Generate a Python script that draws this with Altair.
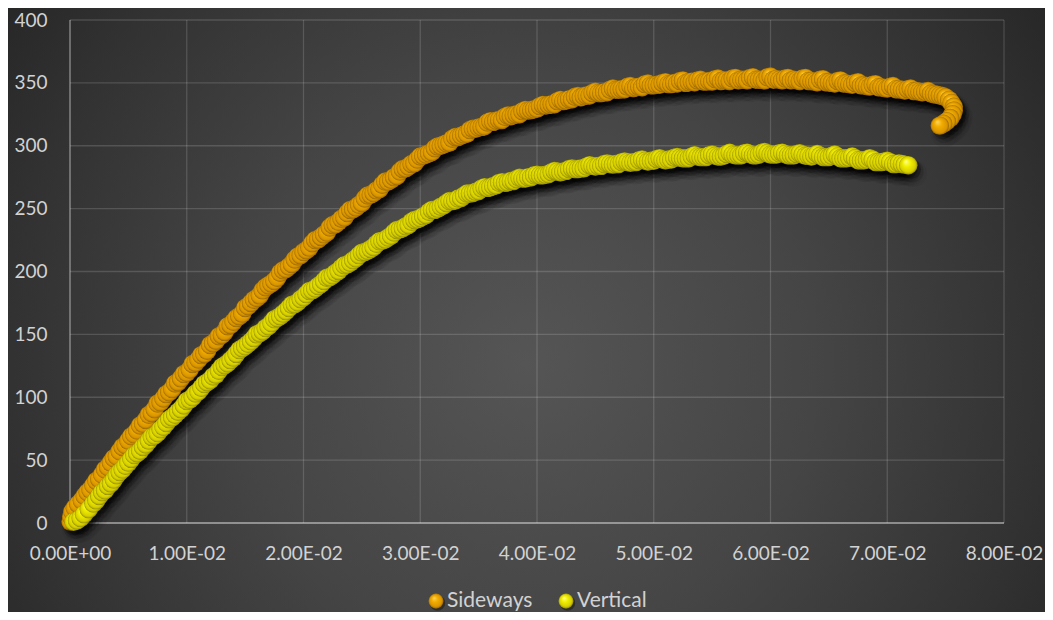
import altair as alt
import pandas as pd

series_names = ["Sideways", "Vertical"]

# strain values in units of 1e-3 (main reading pass)
side_x = [0.05, 0.1, 0.2, 0.4, 0.7,
          1.0, 1.5, 2.0, 2.5, 3.0, 3.5, 4.0, 4.5, 5.0, 5.5, 6.0, 6.5, 7.0, 7.5, 8.0, 8.5, 9.0, 9.5,
          10.0, 10.5, 11.0, 11.5, 12.0, 12.5, 13.0, 13.5, 14.0, 14.5, 15.0, 15.5, 16.0, 16.5, 17.0, 17.5,
          18.0, 18.5, 19.0, 19.5, 20.0, 20.5, 21.0, 21.5, 22.0, 22.5, 23.0, 23.5, 24.0, 24.5, 25.0, 25.5,
          26.0, 26.5, 27.0, 27.5, 28.0, 28.5, 29.0, 29.5, 30.0, 30.5, 31.0, 31.5, 32.0, 32.5, 33.0, 33.5,
          34.0, 34.5, 35.0, 35.5, 36.0, 36.5, 37.0, 37.5, 38.0, 38.5, 39.0, 39.5, 40.0, 40.5, 41.0, 41.5,
          42.0, 42.5, 43.0, 43.5, 44.0, 44.5, 45.0, 45.5, 46.0, 46.5, 47.0, 47.5, 48.0, 48.5, 49.0, 49.5,
          50.0, 50.5, 51.0, 51.5, 52.0, 52.5, 53.0, 53.5, 54.0, 54.5, 55.0, 55.5, 56.0, 56.5, 57.0, 57.5,
          58.0, 58.5, 59.0, 59.5, 60.0, 60.5, 61.0, 61.5, 62.0, 62.5, 63.0, 63.5, 64.0, 64.5, 65.0, 65.5,
          66.0, 66.5, 67.0, 67.5, 68.0, 68.5, 69.0, 69.5, 70.0, 70.5, 71.0, 71.5, 72.0, 72.5, 73.0, 73.5,
          74.0, 74.5, 75.0, 75.3, 75.5, 75.7, 75.7, 75.6, 75.4, 75.1, 74.8, 74.5]
side_y = [1, 5, 9, 12, 15,
          18, 24.5, 30, 35, 42.5, 48, 53, 60.5, 65.5, 70.5, 77.5, 82, 87.5, 95, 99, 104, 111, 115,
          119.5, 126.5, 130, 134.5, 141.5, 145, 149.5, 156.5, 160, 164.5, 171, 175, 179, 185, 189, 192.5,
          199, 202, 206, 212, 215.5, 219, 225, 227.5, 231, 237, 239.5, 243, 249, 251, 254.5, 260.5,
          262.5, 265.5, 271.5, 273, 276, 281.5, 283.5, 286, 291.5, 293, 295, 299.5, 301, 302.5, 307, 308,
          309.5, 313.5, 314.5, 315.5, 319.5, 320, 320.5, 324, 324.5, 325, 328.5, 328.5, 329.5, 332.5, 332.5, 333,
          336.5, 336, 337, 339.5, 339.5, 340, 343, 342, 342.5, 345.5, 344.5, 345, 347.5, 346.5, 346.5, 349.5,
          348, 348.5, 350.5, 349, 349.5, 352, 350.5, 350.5, 352.5, 351, 351, 353.5, 352, 351.5, 354, 352.5,
          352, 354.5, 352.5, 352, 355, 353, 352, 354, 352.5, 351.5, 354, 351.5, 350.5, 353, 350.5, 349.5,
          352, 349.5, 348.5, 350.5, 348, 347, 349, 346.5, 345.5, 347.5, 345, 344, 345.5, 343.5, 342.5, 343.5,
          341, 340, 338.5, 336.5, 334, 331, 328, 325, 322, 319.5, 317.5, 316]

# in-between readings of the same dense Sideways trace
side_x2 = [1.25, 1.75, 2.25, 2.75, 3.25, 3.75, 4.25, 4.75, 5.25, 5.75, 6.25, 6.75, 7.25, 7.75, 8.25, 8.75, 9.25, 9.75,
           10.25, 10.75, 11.25, 11.75, 12.25, 12.75, 13.25, 13.75, 14.25, 14.75, 15.25, 15.75, 16.25, 16.75, 17.25, 17.75,
           18.25, 18.75, 19.25, 19.75, 20.25, 20.75, 21.25, 21.75, 22.25, 22.75, 23.25, 23.75, 24.25, 24.75, 25.25, 25.75,
           26.25, 26.75, 27.25, 27.75, 28.25, 28.75, 29.25, 29.75, 30.25, 30.75, 31.25, 31.75, 32.25, 32.75, 33.25, 33.75,
           34.25, 34.75, 35.25, 35.75, 36.25, 36.75, 37.25, 37.75, 38.25, 38.75, 39.25, 39.75, 40.25, 40.75, 41.25, 41.75,
           42.25, 42.75, 43.25, 43.75, 44.25, 44.75, 45.25, 45.75, 46.25, 46.75, 47.25, 47.75, 48.25, 48.75, 49.25, 49.75,
           50.25, 50.75, 51.25, 51.75, 52.25, 52.75, 53.25, 53.75, 54.25, 54.75, 55.25, 55.75, 56.25, 56.75, 57.25, 57.75,
           58.25, 58.75, 59.25, 59.75, 60.25, 60.75, 61.25, 61.75, 62.25, 62.75, 63.25, 63.75, 64.25, 64.75, 65.25, 65.75,
           66.25, 66.75, 67.25, 67.75, 68.25, 68.75, 69.25, 69.75, 70.25, 70.75, 71.25, 71.75, 72.25, 72.75, 73.25, 73.75,
           74.25, 74.75]
side_y2 = [21.5, 26.5, 33.5, 38.5, 44.5, 51.5, 57, 62, 69, 73.5, 79, 86, 90.5, 96, 102.5, 106.5, 112, 118.5,
           122, 127.5, 133.5, 137, 143, 148.5, 152, 157.5, 163, 166.5, 172.5, 177.5, 181, 187.5, 190.5, 195,
           201, 204, 209.5, 213, 217, 222.5, 225.5, 229.5, 235, 237.5, 242, 246.5, 249.5, 253, 258, 261,
           264.5, 269, 271.5, 275, 279.5, 282, 285.5, 289, 292, 294, 298, 300, 302, 305.5, 307, 309,
           312.5, 313.5, 315, 318.5, 319, 320.5, 323, 323.5, 325, 327.5, 328, 329, 331.5, 332, 333, 335.5,
           335.5, 337, 339, 338.5, 340, 342, 342, 342.5, 344.5, 344.5, 345, 347, 346, 347, 349, 348,
           348.5, 350, 349, 350, 351.5, 350, 351, 352, 351, 351.5, 353, 351.5, 352, 353.5, 352, 352.5,
           354, 352.5, 352.5, 354.5, 352.5, 352.5, 353.5, 352, 352, 353.5, 351.5, 351, 352.5, 350.5, 350, 351.5,
           349.5, 349, 350, 348, 347.5, 348.5, 346.5, 346, 347, 345, 344.5, 345, 343.5, 343, 343, 341.5,
           340.5, 339.5]

vert_x = [0.3, 0.6, 0.9, 1.2, 1.6,
          2.0, 2.5, 3.0, 3.5, 4.0, 4.5, 5.0, 5.5, 6.0, 6.5, 7.0, 7.5, 8.0, 8.5, 9.0, 9.5,
          10.0, 10.5, 11.0, 11.5, 12.0, 12.5, 13.0, 13.5, 14.0, 14.5, 15.0, 15.5, 16.0, 16.5, 17.0, 17.5,
          18.0, 18.5, 19.0, 19.5, 20.0, 20.5, 21.0, 21.5, 22.0, 22.5, 23.0, 23.5, 24.0, 24.5, 25.0, 25.5,
          26.0, 26.5, 27.0, 27.5, 28.0, 28.5, 29.0, 29.5, 30.0, 30.5, 31.0, 31.5, 32.0, 32.5, 33.0, 33.5,
          34.0, 34.5, 35.0, 35.5, 36.0, 36.5, 37.0, 37.5, 38.0, 38.5, 39.0, 39.5, 40.0, 40.5, 41.0, 41.5,
          42.0, 42.5, 43.0, 43.5, 44.0, 44.5, 45.0, 45.5, 46.0, 46.5, 47.0, 47.5, 48.0, 48.5, 49.0, 49.5,
          50.0, 50.5, 51.0, 51.5, 52.0, 52.5, 53.0, 53.5, 54.0, 54.5, 55.0, 55.5, 56.0, 56.5, 57.0, 57.5,
          58.0, 58.5, 59.0, 59.5, 60.0, 60.5, 61.0, 61.5, 62.0, 62.5, 63.0, 63.5, 64.0, 64.5, 65.0, 65.5,
          66.0, 66.5, 67.0, 67.5, 68.0, 68.5, 69.0, 69.5, 70.0, 70.5, 71.0, 71.5, 71.8]
vert_y = [1, 2, 4, 7, 11,
          15.5, 21.5, 26, 31.5, 38, 42.5, 48, 54, 57.5, 62.5, 68.5, 71.5, 76.5, 82.5, 86, 90.5,
          97, 100, 104.5, 110.5, 113.5, 118, 124, 127, 131.5, 137.5, 140.5, 144.5, 150, 152.5, 156.5, 162,
          164.5, 168.5, 173.5, 175.5, 179.5, 184.5, 186.5, 190, 195, 197, 200.5, 205, 207, 210.5, 215, 216.5,
          219.5, 224, 225.5, 228.5, 233, 234.5, 237, 241, 242.5, 245, 249, 250, 252.5, 256, 256.5, 258.5,
          262, 262.5, 264, 267, 267, 268.5, 271, 271, 272, 274.5, 274, 275, 277, 276.5, 277.5, 280,
          279, 280, 282, 281.5, 282, 284.5, 283.5, 284, 286, 285, 285.5, 287.5, 286.5, 287, 289, 287.5,
          288, 290, 288.5, 289, 291, 290, 290, 292.5, 291, 291, 293, 291.5, 292, 294.5, 292.5, 292.5,
          294.5, 292.5, 293, 295, 293, 293, 294.5, 292.5, 292.5, 294, 292, 291.5, 293.5, 291, 291, 293,
          290, 290, 291.5, 288.5, 288.5, 290, 287, 287, 288, 285.5, 286, 285, 284.5]

# in-between readings of the same dense Vertical trace
vert_x2 = [2.25, 2.75, 3.25, 3.75, 4.25, 4.75, 5.25, 5.75, 6.25, 6.75, 7.25, 7.75, 8.25, 8.75, 9.25, 9.75,
           10.25, 10.75, 11.25, 11.75, 12.25, 12.75, 13.25, 13.75, 14.25, 14.75, 15.25, 15.75, 16.25, 16.75, 17.25, 17.75,
           18.25, 18.75, 19.25, 19.75, 20.25, 20.75, 21.25, 21.75, 22.25, 22.75, 23.25, 23.75, 24.25, 24.75, 25.25, 25.75,
           26.25, 26.75, 27.25, 27.75, 28.25, 28.75, 29.25, 29.75, 30.25, 30.75, 31.25, 31.75, 32.25, 32.75, 33.25, 33.75,
           34.25, 34.75, 35.25, 35.75, 36.25, 36.75, 37.25, 37.75, 38.25, 38.75, 39.25, 39.75, 40.25, 40.75, 41.25, 41.75,
           42.25, 42.75, 43.25, 43.75, 44.25, 44.75, 45.25, 45.75, 46.25, 46.75, 47.25, 47.75, 48.25, 48.75, 49.25, 49.75,
           50.25, 50.75, 51.25, 51.75, 52.25, 52.75, 53.25, 53.75, 54.25, 54.75, 55.25, 55.75, 56.25, 56.75, 57.25, 57.75,
           58.25, 58.75, 59.25, 59.75, 60.25, 60.75, 61.25, 61.75, 62.25, 62.75, 63.25, 63.75, 64.25, 64.75, 65.25, 65.75,
           66.25, 66.75, 67.25, 67.75, 68.25, 68.75, 69.25, 69.75, 70.25, 70.75, 71.25]
vert_y2 = [18, 24.5, 29.5, 34.5, 40.5, 45.5, 51, 55.5, 60.5, 65.5, 69.5, 74.5, 79.5, 84, 88.5, 93.5,
           98, 103, 107.5, 112, 116.5, 121, 125.5, 129.5, 134.5, 139, 142.5, 147, 151, 155, 159, 163,
           166.5, 171, 174, 178, 182, 185, 188.5, 192.5, 195.5, 199, 203, 205.5, 209, 213, 215.5, 218,
           222, 224.5, 227, 231, 233.5, 236, 239.5, 241.5, 244, 247.5, 249, 251.5, 254.5, 256, 258, 260.5,
           262, 263.5, 266, 266.5, 268, 270.5, 270.5, 272, 273.5, 274, 275, 276.5, 276.5, 277, 279, 279.5,
           279.5, 281.5, 281.5, 282, 283.5, 284, 284, 285.5, 285.5, 285.5, 287, 287, 287, 288.5, 288, 288,
           289.5, 289, 289, 290.5, 290.5, 290, 291.5, 291.5, 291, 292.5, 292, 291.5, 293.5, 293, 292.5, 294,
           293.5, 292.5, 294.5, 294, 293, 294, 293.5, 292.5, 293.5, 293, 292, 292.5, 292, 291, 292, 291.5,
           290, 290.5, 290, 288.5, 289, 289, 287, 287.5, 287, 285.5, 285.5]

x_ticks = [0.0, 0.01, 0.02, 0.03, 0.04, 0.05, 0.06, 0.07, 0.08]
y_ticks = [0, 50, 100, 150, 200, 250, 300, 350, 400]

assert len(side_x) == len(side_y) and len(side_x2) == len(side_y2)
assert len(vert_x) == len(vert_y) and len(vert_x2) == len(vert_y2)

# drawing order follows the trace: merge readings by strain, keep the unloading hook last
hook = side_x.index(75.0) + 1
side_body = sorted(list(zip(side_x[:hook], side_y[:hook])) + list(zip(side_x2, side_y2)),
                   key=lambda p: p[0])
side_pts_list = side_body + list(zip(side_x[hook:], side_y[hook:]))
vert_pts_list = sorted(list(zip(vert_x, vert_y)) + list(zip(vert_x2, vert_y2)), key=lambda p: p[0])

df_side = pd.DataFrame({"x": [p[0] / 1000 for p in side_pts_list], "y": [p[1] for p in side_pts_list]})
df_vert = pd.DataFrame({"x": [p[0] / 1000 for p in vert_pts_list], "y": [p[1] for p in vert_pts_list]})

FONT = "Lato"
LABEL = "#D2D2D2"
W, H = 934, 503
TOP = 12          # distance from the chart's top edge to the plot area
DOT = 340

xs = alt.Scale(domain=[0, 0.08], nice=False, zero=False)
ys = alt.Scale(domain=[0, 400], nice=False, zero=False)

x_axis = alt.Axis(values=x_ticks, grid=False, domain=False, ticks=False, tickSize=0,
                  labelPadding=21, labelFont=FONT, labelFontSize=19, labelColor=LABEL,
                  labelOverlap=False, labelFlush=False, title=None, zindex=2,
                  labelExpr="replace(replace(format(datum.value, '.2e'), 'e-', 'E-0'), 'e+', 'E+0')")
y_axis = alt.Axis(values=y_ticks, grid=False, domain=False, ticks=False, tickSize=0,
                  labelPadding=23, labelFont=FONT, labelFontSize=19, labelColor=LABEL,
                  labelOverlap=False, title=None, zindex=2)


def X(field):
    return alt.X(field, scale=xs, axis=x_axis)


def Y(field):
    return alt.Y(field, scale=ys, axis=y_axis)


def sphere(hi, mid, lo, edge):
    return {"gradient": "radial", "x1": 0.36, "y1": 0.28, "r1": 0.0,
            "x2": 0.5, "y2": 0.5, "r2": 0.5,
            "stops": [{"offset": 0, "color": hi}, {"offset": 0.4, "color": mid},
                      {"offset": 0.85, "color": lo}, {"offset": 1, "color": edge}]}


orange_fill = sphere("#FFD866", "#F2AE00", "#D89400", "#946400")
yellow_fill = sphere("#FFFF9A", "#F2F000", "#D4CC00", "#8E8800")

bg_fill = {"gradient": "radial", "x1": 0.5, "y1": 0.55, "r1": 0.0,
           "x2": 0.5, "y2": 0.55, "r2": 0.62,
           "stops": [{"offset": 0, "color": "#555555"}, {"offset": 0.45, "color": "#454545"},
                     {"offset": 0.8, "color": "#323232"}, {"offset": 1, "color": "#262626"}]}

one = pd.DataFrame({"k": [0]})

background = alt.Chart(one).mark_rect(fill=bg_fill).encode(
    x=alt.value(-62), x2=alt.value(975), y=alt.value(-TOP), y2=alt.value(604 - TOP))

grid_x = alt.Chart(pd.DataFrame({"v": x_ticks[1:]})).mark_rule(
    color="#ffffff", opacity=0.15, strokeWidth=1.3).encode(x=X("v:Q"))
grid_y = alt.Chart(pd.DataFrame({"v": y_ticks[1:]})).mark_rule(
    color="#ffffff", opacity=0.15, strokeWidth=1.3).encode(y=Y("v:Q"))
zero_x = alt.Chart(pd.DataFrame({"v": x_ticks[:1]})).mark_rule(
    color="#ffffff", opacity=0.38, strokeWidth=1.6).encode(x=X("v:Q"))
zero_y = alt.Chart(pd.DataFrame({"v": y_ticks[:1]})).mark_rule(
    color="#ffffff", opacity=0.42, strokeWidth=2).encode(y=Y("v:Q"))


def shadows(df):
    layers = []
    for size, op, dx, dy in [(760, 0.04, 5, 8), (520, 0.09, 4, 6), (380, 0.22, 3, 4)]:
        layers.append(alt.Chart(df).mark_circle(color="#000000", opacity=op, size=size,
                                                xOffset=dx, yOffset=dy).encode(
            x=X("x:Q"), y=Y("y:Q")))
    return alt.layer(*layers)


side_pts = alt.Chart(df_side).mark_circle(fill=orange_fill, opacity=1, size=DOT).encode(
    x=X("x:Q"), y=Y("y:Q"))
vert_pts = alt.Chart(df_vert).mark_circle(fill=yellow_fill, opacity=1, size=DOT).encode(
    x=X("x:Q"), y=Y("y:Q"))

LEG_Y = 581


def legend_item(name, fill, dot_x):
    d = pd.DataFrame({"name": [name]})
    sh = alt.Chart(d).mark_circle(color="#000000", opacity=0.35, size=240,
                                  xOffset=1.5, yOffset=2).encode(
        x=alt.value(dot_x), y=alt.value(LEG_Y))
    dot = alt.Chart(d).mark_circle(fill=fill, opacity=1, size=220).encode(
        x=alt.value(dot_x), y=alt.value(LEG_Y))
    txt = alt.Chart(d).mark_text(align="left", baseline="middle", font=FONT, fontSize=21,
                                 color=LABEL).encode(
        x=alt.value(dot_x + 11), y=alt.value(LEG_Y), text="name:N")
    return alt.layer(sh, dot, txt)


chart = alt.layer(
    background, grid_x, grid_y, zero_x, zero_y,
    shadows(df_side), side_pts,
    shadows(df_vert), vert_pts,
    legend_item(series_names[0], orange_fill, 366),
    legend_item(series_names[1], yellow_fill, 496),
).properties(
    width=W, height=H, padding=0, background="#262626"
).configure_view(strokeWidth=0)

chart.save("out.html", embed_options={"renderer": "svg", "actions": False})
